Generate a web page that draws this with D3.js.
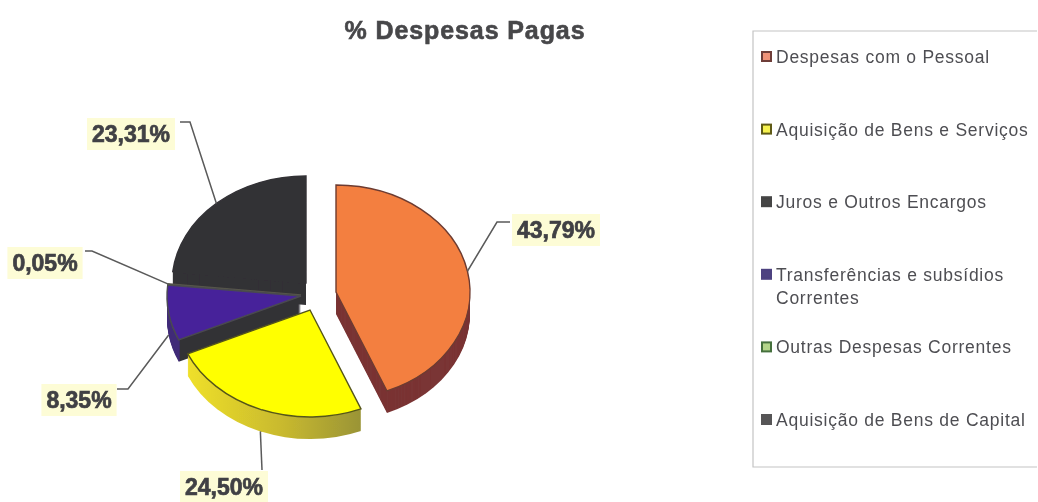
<!DOCTYPE html>
<html>
<head>
<meta charset="utf-8">
<script src="https://cdn.jsdelivr.net/npm/d3@7"></script>
<style>
html, body { margin: 0; padding: 0; background: #fff; overflow: hidden; }
svg { display: block; font-family: "Liberation Sans", Arial, sans-serif; }
</style>
</head>
<body>
<div id="chart"></div>
<script>
const categories = [
    'Despesas com o Pessoal',
    'Aquisição de Bens e Serviços',
    'Juros e Outros Encargos',
    'Transferências e subsídios Correntes',
    'Outras Despesas Correntes',
    'Aquisição de Bens de Capital'
];
const values = [43.79, 24.50, 0, 8.35, 0.05, 23.31];
const legendLines = [
    ['Despesas com o Pessoal'],
    ['Aquisição de Bens e Serviços'],
    ['Juros e Outros Encargos'],
    ['Transferências e subsídios', 'Correntes'],
    ['Outras Despesas Correntes'],
    ['Aquisição de Bens de Capital']
];
const topColors = ['#f37f3f', '#ffff00', '#333136', '#47249a', '#5a5a48', '#333136'];
const legendOuter = ['#6e3d38', '#5f5a14', '#444444', '#4d4280', '#44703c', '#565456'];
const legendInner = ['#ef9278', '#f6f250', '#444444', '#4d4280', '#b4d68a', '#565456'];

const width = 1038;
const height = 502;
const rx = 134;
const ry = 107;
const depth = 22;
const strokeColors = ['#6d3b30', '#55551a', '#333136', '#4a4a50', '#55554a', '#333136'];

// each slice is pulled out of the pie by hand, as in the original
const sliceCenters = [[336, 292], [310, 310], [301, 296], [301, 296], [301, 295], [306, 283]];
// label box centre and the elbow of its leader line
const labelSpots = [
    { x: 556, y: 230, ex: 497, ey: 222, tx: 510 },
    { x: 224, y: 487, ex: 262, ey: 470, tx: 262 },
    null,
    { x: 79, y: 400, ex: 128, ey: 389, tx: 117 },
    { x: 45, y: 263, ex: 92, ey: 251, tx: 85 },
    { x: 131, y: 134, ex: 190, ey: 122, tx: 180 }
];

const svg = d3.select('#chart').append('svg').attr('width', width).attr('height', height);

const defs = svg.append('defs');
defs.append('filter').attr('id', 'scan').append('feGaussianBlur').attr('stdDeviation', 0.45);

const wallYellow = defs.append('linearGradient').attr('id', 'wall1');
wallYellow.append('stop').attr('offset', '0%').attr('stop-color', '#efe02a');
wallYellow.append('stop').attr('offset', '55%').attr('stop-color', '#c8b92e');
wallYellow.append('stop').attr('offset', '100%').attr('stop-color', '#9a9436');

const wallPurple = defs.append('linearGradient').attr('id', 'wall3');
wallPurple.append('stop').attr('offset', '9%').attr('stop-color', '#3f2a78');
wallPurple.append('stop').attr('offset', '10%').attr('stop-color', '#333136');

const wallFills = ['#7a3434', 'url(#wall1)', '#333136', 'url(#wall3)', '#333136', '#333136'];

const root = svg.append('g').attr('filter', 'url(#scan)');

const pie = d3.pie().sort(null).value(d => d);
const arcs = pie(values);
const arc = d3.arc().innerRadius(0).outerRadius(rx);

// draw back to front so the near slices cover the far ones
const drawOrder = [5, 2, 4, 3, 0, 1];
drawOrder.forEach(i => {
    if (values[i] === 0) return;
    const [cx, cy] = sliceCenters[i];
    for (let k = depth; k >= 1; k--) {
        root.append('path')
            .attr('d', arc(arcs[i]))
            .attr('transform', `translate(${cx},${cy + k}) scale(1,${ry / rx})`)
            .attr('fill', wallFills[i]);
    }
    root.append('path')
        .attr('d', arc(arcs[i]))
        .attr('transform', `translate(${cx},${cy}) scale(1,${ry / rx})`)
        .attr('fill', topColors[i])
        .attr('stroke', strokeColors[i])
        .attr('stroke-width', 1.4)
        .attr('vector-effect', 'non-scaling-stroke');
});

// leader lines start on the rim at the middle of each slice
const pct = d3.format('.2f');
arcs.forEach((a, i) => {
    if (values[i] === 0) return;
    const spot = labelSpots[i];
    const mid = (a.startAngle + a.endAngle) / 2;
    const [cx, cy] = sliceCenters[i];
    const ax = cx + rx * Math.sin(mid);
    const ay = cy - ry * Math.cos(mid) + (Math.cos(mid) < 0 ? depth : 0);
    root.append('polyline')
        .attr('points', [[ax, ay], [spot.ex, spot.ey], [spot.tx, spot.ey]].join(' '))
        .attr('fill', 'none')
        .attr('stroke', '#5a5a5a')
        .attr('stroke-width', 1.5);

    const text = pct(values[i]).replace('.', ',') + '%';
    const g = root.append('g');
    const t = g.append('text')
        .attr('x', spot.x)
        .attr('y', spot.y + 8)
        .attr('text-anchor', 'middle')
        .attr('font-size', 23)
        .attr('font-weight', 'bold')
        .attr('fill', '#404044')
        .attr('stroke', '#404044')
        .attr('stroke-width', 0.7)
        .text(text);
    const box = t.node().getBBox();
    g.insert('rect', 'text')
        .attr('x', box.x - 5)
        .attr('y', spot.y - 16)
        .attr('width', box.width + 10)
        .attr('height', 32)
        .attr('fill', '#fdfcd6');
});

root.append('text')
    .attr('x', 465)
    .attr('y', 39)
    .attr('text-anchor', 'middle')
    .attr('font-size', 25)
    .attr('font-weight', 'bold')
    .attr('letter-spacing', 0.9)
    .attr('fill', '#47474a')
    .attr('stroke', '#47474a')
    .attr('stroke-width', 0.6)
    .text('% Despesas Pagas');

// legend
root.append('path')
    .attr('d', 'M1037,31H753V467H1037')
    .attr('fill', 'none')
    .attr('stroke', '#c4c4c4')
    .attr('stroke-width', 1.2);

const legendY = d3.scalePoint().domain(categories).range([57, 420]);

categories.forEach((name, i) => {
    const y = legendY(name);
    root.append('rect')
        .attr('x', 762).attr('y', y - 5)
        .attr('width', 9).attr('height', 9)
        .attr('fill', legendInner[i])
        .attr('stroke', legendOuter[i])
        .attr('stroke-width', 2);
    legendLines[i].forEach((line, j) => {
        root.append('text')
            .attr('x', 776)
            .attr('y', y + 6 + j * 23)
            .attr('font-size', 17.5)
            .attr('letter-spacing', 0.75)
            .attr('fill', '#4e4e52')
            .text(line);
    });
});
</script>
</body>
</html>
